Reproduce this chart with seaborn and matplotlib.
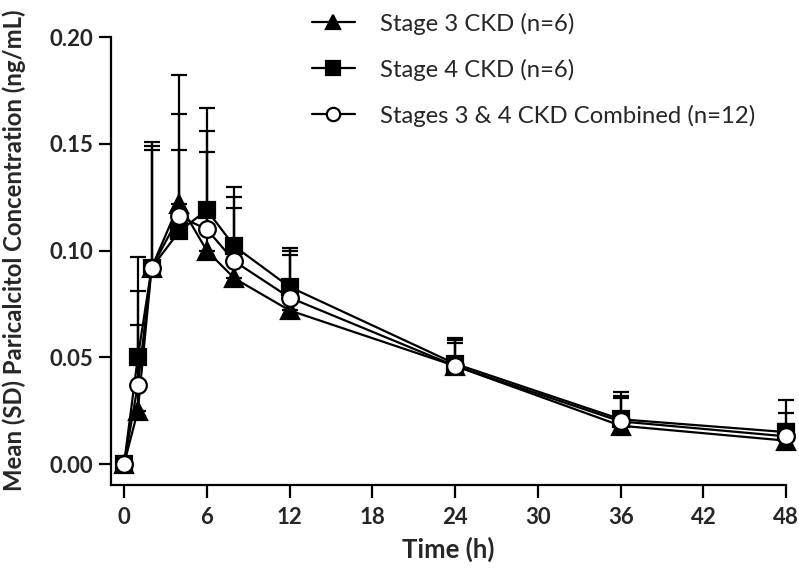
import numpy as np
import pandas as pd
import matplotlib
matplotlib.use('Agg')
import matplotlib.pyplot as plt
import seaborn as sns

# Mean concentrations and upper SD bar tops (ng/mL)
time_h = [0, 1, 2, 4, 6, 8, 12, 24, 36, 48]

stage3_mean = [0.0, 0.025, 0.092, 0.122, 0.100, 0.087, 0.072, 0.046, 0.018, 0.011]
stage3_top = [0.0, 0.065, 0.147, 0.182, 0.146, 0.120, 0.098, 0.0565, 0.031, 0.019]

stage4_mean = [0.0, 0.050, 0.092, 0.109, 0.119, 0.102, 0.083, 0.047, 0.021, 0.015]
stage4_top = [0.0, 0.097, 0.151, 0.147, 0.167, 0.130, 0.101, 0.0593, 0.0336, 0.030]

combined_mean = [0.0, 0.037, 0.092, 0.116, 0.110, 0.095, 0.078, 0.046, 0.020, 0.013]
combined_top = [0.0, 0.081, 0.149, 0.164, 0.156, 0.125, 0.100, 0.058, 0.032, 0.024]

labels = ['Stage 3 CKD (n=6)', 'Stage 4 CKD (n=6)', 'Stages 3 & 4 CKD Combined (n=12)']

sns.set_style('ticks')
plt.rcParams['font.family'] = ['Lato', 'DejaVu Sans']

fig = plt.figure(figsize=(7.99, 5.70), dpi=100)
ax = fig.add_axes([0.139, 0.149, 0.845, 0.786])

series = [
    (labels[0], stage3_mean, stage3_top, '^', 'black'),
    (labels[1], stage4_mean, stage4_top, 's', 'black'),
    (labels[2], combined_mean, combined_top, 'o', 'white'),
]

for i, (lab, mean, top, mk, face) in enumerate(series):
    mean = np.array(mean)
    up = np.array(top) - mean
    ax.errorbar(time_h, mean, yerr=[np.zeros_like(up), up], fmt='none',
                ecolor='black', elinewidth=1.6, capsize=5.5, capthick=1.6,
                zorder=2 + i, clip_on=False)
    df = pd.DataFrame({'time': time_h, 'conc': mean})
    sns.lineplot(data=df, x='time', y='conc', ax=ax, color='black',
                 linewidth=1.6, marker=mk, markersize=12 if mk != '^' else 12.5,
                 markerfacecolor=face, markeredgecolor='black',
                 markeredgewidth=1.6, label=lab, zorder=5 + i, clip_on=False)

ax.set_xlim(-0.94, 48)
ax.set_ylim(-0.0098, 0.20)
ax.set_xticks(np.arange(0, 49, 6))
ax.set_yticks([0.0, 0.05, 0.10, 0.15, 0.20])
ax.set_yticklabels(['0.00', '0.05', '0.10', '0.15', '0.20'])

for s in ['top', 'right']:
    ax.spines[s].set_visible(False)
for s in ['left', 'bottom']:
    ax.spines[s].set_linewidth(1.6)
    ax.spines[s].set_color('black')
ax.tick_params(axis='both', width=1.6, length=9, color='black', labelsize=16)
ax.tick_params(axis='x', pad=7)
ax.tick_params(axis='y', pad=4)
for t in ax.get_xticklabels() + ax.get_yticklabels():
    t.set_fontweight('bold')

ax.set_xlabel('Time (h)', fontsize=18.5, fontweight='bold', labelpad=6)
ax.set_ylabel('Mean (SD) Paricalcitol Concentration (ng/mL)', fontsize=17.2,
              fontweight='bold')
ax.yaxis.set_label_coords(-0.126, 0.525)

handles, labs = ax.get_legend_handles_labels()
ax.legend(handles, labs, loc='upper left', bbox_to_anchor=(0.39, 0.978),
          bbox_transform=fig.transFigure, frameon=False, fontsize=17.2,
          handlelength=1.8, labelspacing=1.0, handletextpad=1.05,
          borderpad=0, borderaxespad=0, markerscale=0.8)

fig.savefig('out.png', dpi=100)
